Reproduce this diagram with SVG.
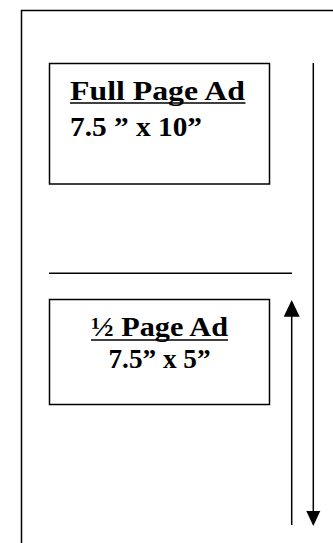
<svg xmlns="http://www.w3.org/2000/svg" width="333" height="543" viewBox="0 0 333 543">
  <style>
    .frame { fill: none; stroke: #000; stroke-width: 1.5; }
    .box { fill: #fff; stroke: #000; stroke-width: 1.5; }
    .rule { stroke: #000; stroke-width: 1.5; fill: none; }
    .lbl { font-family: "Liberation Serif", "Times New Roman", serif; font-weight: bold; fill: #000; font-size: 27px; }
  </style>

  <!-- page outline -->
  <g id="page">
    <path class="frame" d="M21.5,543 V10.5 H340"/>
  </g>

  <!-- full page ad block -->
  <g id="full-page-ad">
    <rect class="box" x="49.5" y="63.5" width="220" height="120.5"/>
    <text class="lbl" x="70" y="99.5" textLength="175" lengthAdjust="spacingAndGlyphs">Full Page Ad</text>
    <line class="rule" x1="70" y1="103" x2="245.5" y2="103"/>
    <text class="lbl" x="70" y="135.5" textLength="132" lengthAdjust="spacingAndGlyphs">7.5 ” x 10”</text>
  </g>

  <!-- half page divider -->
  <g id="divider">
    <line class="rule" x1="49" y1="273.3" x2="292" y2="273.3"/>
  </g>

  <!-- half page ad block -->
  <g id="half-page-ad">
    <rect class="box" x="49.5" y="299.5" width="220" height="105"/>
    <text class="lbl" x="159.5" y="336" text-anchor="middle" textLength="137" lengthAdjust="spacingAndGlyphs">½ Page Ad</text>
    <line class="rule" x1="91" y1="340" x2="228" y2="340"/>
    <text class="lbl" x="159.5" y="368" text-anchor="middle" textLength="102" lengthAdjust="spacingAndGlyphs">7.5” x 5”</text>
  </g>

  <!-- extent arrows -->
  <g id="connectors">
    <line class="rule" x1="313.3" y1="63" x2="313.3" y2="512"/>
    <path d="M306.3,511 L320.3,511 L313.3,526 Z" fill="#000"/>
    <line class="rule" x1="291.7" y1="525" x2="291.7" y2="316"/>
    <path d="M283.7,316.7 L299.7,316.7 L291.7,300 Z" fill="#000"/>
  </g>
</svg>
